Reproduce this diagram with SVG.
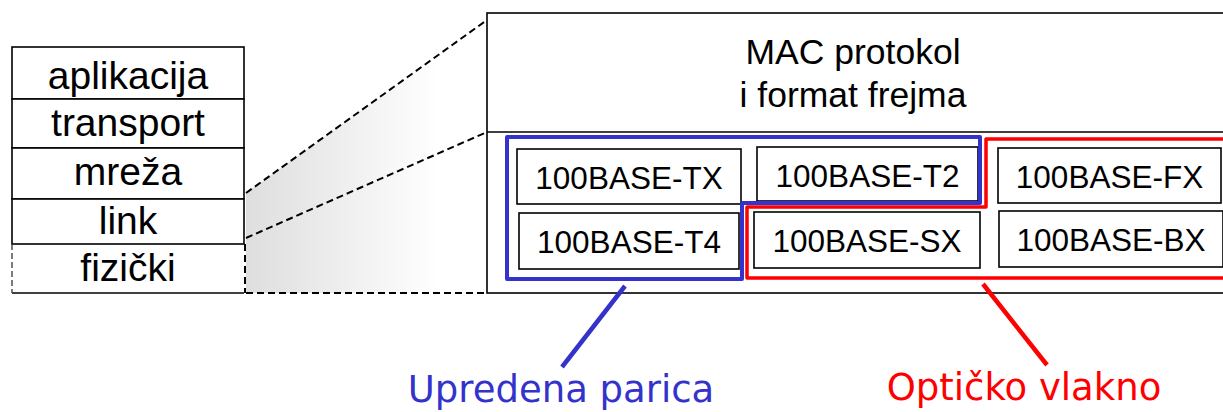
<svg xmlns="http://www.w3.org/2000/svg" width="1223" height="412" viewBox="0 0 1223 412">
<defs>
<linearGradient id="shade" gradientUnits="userSpaceOnUse" x1="246" y1="0" x2="487" y2="0">
<stop offset="0" stop-color="#dedede"/>
<stop offset="0.8" stop-color="#ffffff"/>
</linearGradient>
<style>
.box{fill:#ffffff;stroke:#000;stroke-width:1.6}
.line{stroke:#000;stroke-width:1.6;fill:none}
.dash{stroke:#000;stroke-width:2;fill:none;stroke-dasharray:7 4}
.layer{font-family:"Liberation Sans",Arial,sans-serif;font-size:39px;text-anchor:middle;fill:#000}
.std{font-family:"Liberation Sans",Arial,sans-serif;font-size:31.5px;text-anchor:middle;fill:#000}
.mac{font-family:"Liberation Sans",Arial,sans-serif;font-size:35.5px;text-anchor:middle;fill:#000}
.lbl{font-family:"Comic Sans MS","DejaVu Sans",sans-serif;font-size:37px;text-anchor:middle}
</style>
</defs>
<rect width="1223" height="412" fill="#ffffff"/>
<polygon points="246,193 487,20 487,293 246,293" fill="url(#shade)"/>

<g id="stack">
<g id="layer-aplikacija"><rect class="box" x="12" y="47" width="232" height="52"/><text class="layer" x="128" y="89">aplikacija</text></g>
<g id="layer-transport"><rect class="box" x="12" y="99" width="232" height="49"/><text class="layer" x="128" y="136">transport</text></g>
<g id="layer-mreza"><rect class="box" x="12" y="148" width="232" height="51"/><text class="layer" x="128" y="185">mreža</text></g>
<g id="layer-link"><rect class="box" x="12" y="199" width="232" height="45"/><text class="layer" x="128" y="234">link</text></g>
<g id="layer-fizicki">
<line class="line" x1="12" y1="293" x2="244" y2="293"/>
<line x1="12" y1="244" x2="12" y2="293" stroke="#444" stroke-width="1.4" stroke-dasharray="6 3"/>
<line class="dash" x1="245" y1="244" x2="245" y2="293" stroke-width="2.4"/>
<text class="layer" x="128" y="281">fizički</text>
</g>
</g>

<g id="mac-box">
<rect class="box" x="487" y="13" width="760" height="280"/>
<line class="line" x1="487" y1="132" x2="1223" y2="132"/>
<text class="mac" x="853" y="64">MAC protokol</text>
<text class="mac" x="853" y="107">i format frejma</text>
</g>

<g id="standards">
<g id="tx"><rect class="box" x="517" y="149" width="224" height="55"/><text class="std" x="629" y="189">100BASE-TX</text></g>
<g id="t2"><rect class="box" x="757" y="147" width="221" height="54"/><text class="std" x="867.5" y="187">100BASE-T2</text></g>
<g id="fx"><rect class="box" x="998" y="148" width="223" height="55"/><text class="std" x="1109.5" y="188">100BASE-FX</text></g>
<g id="t4"><rect class="box" x="519" y="213" width="220" height="56"/><text class="std" x="629" y="253">100BASE-T4</text></g>
<g id="sx"><rect class="box" x="754" y="212" width="226" height="56"/><text class="std" x="867" y="252">100BASE-SX</text></g>
<g id="bx"><rect class="box" x="999" y="211" width="224" height="56"/><text class="std" x="1111" y="251">100BASE-BX</text></g>
</g>

<g id="twisted-pair-group">
<polygon points="507,137 980,137 980,203 742,203 742,279 507,279" fill="none" stroke="#3333cc" stroke-width="4" stroke-linejoin="round"/>
</g>
<g id="fiber-group">
<polyline points="1235,139 986,139 986,207 747,207 747,278 1235,278" fill="none" stroke="#ff0000" stroke-width="3.5" stroke-linejoin="round"/>
</g>

<g id="connectors">
<line class="dash" x1="246" y1="193" x2="487" y2="20"/>
<line class="dash" x1="246" y1="238" x2="487" y2="132"/>
<line class="dash" x1="246" y1="293" x2="487" y2="293"/>
<line x1="625" y1="286" x2="562" y2="367" stroke="#3333cc" stroke-width="4.5"/>
<line x1="983" y1="284" x2="1047" y2="365" stroke="#ff0000" stroke-width="4.5"/>
</g>

<g id="label-upredena"><text class="lbl" x="561" y="402" fill="#3333cc">Upredena parica</text></g>
<g id="label-opticko"><text class="lbl" x="1024" y="400" fill="#ff0000">Optičko vlakno</text></g>
</svg>
